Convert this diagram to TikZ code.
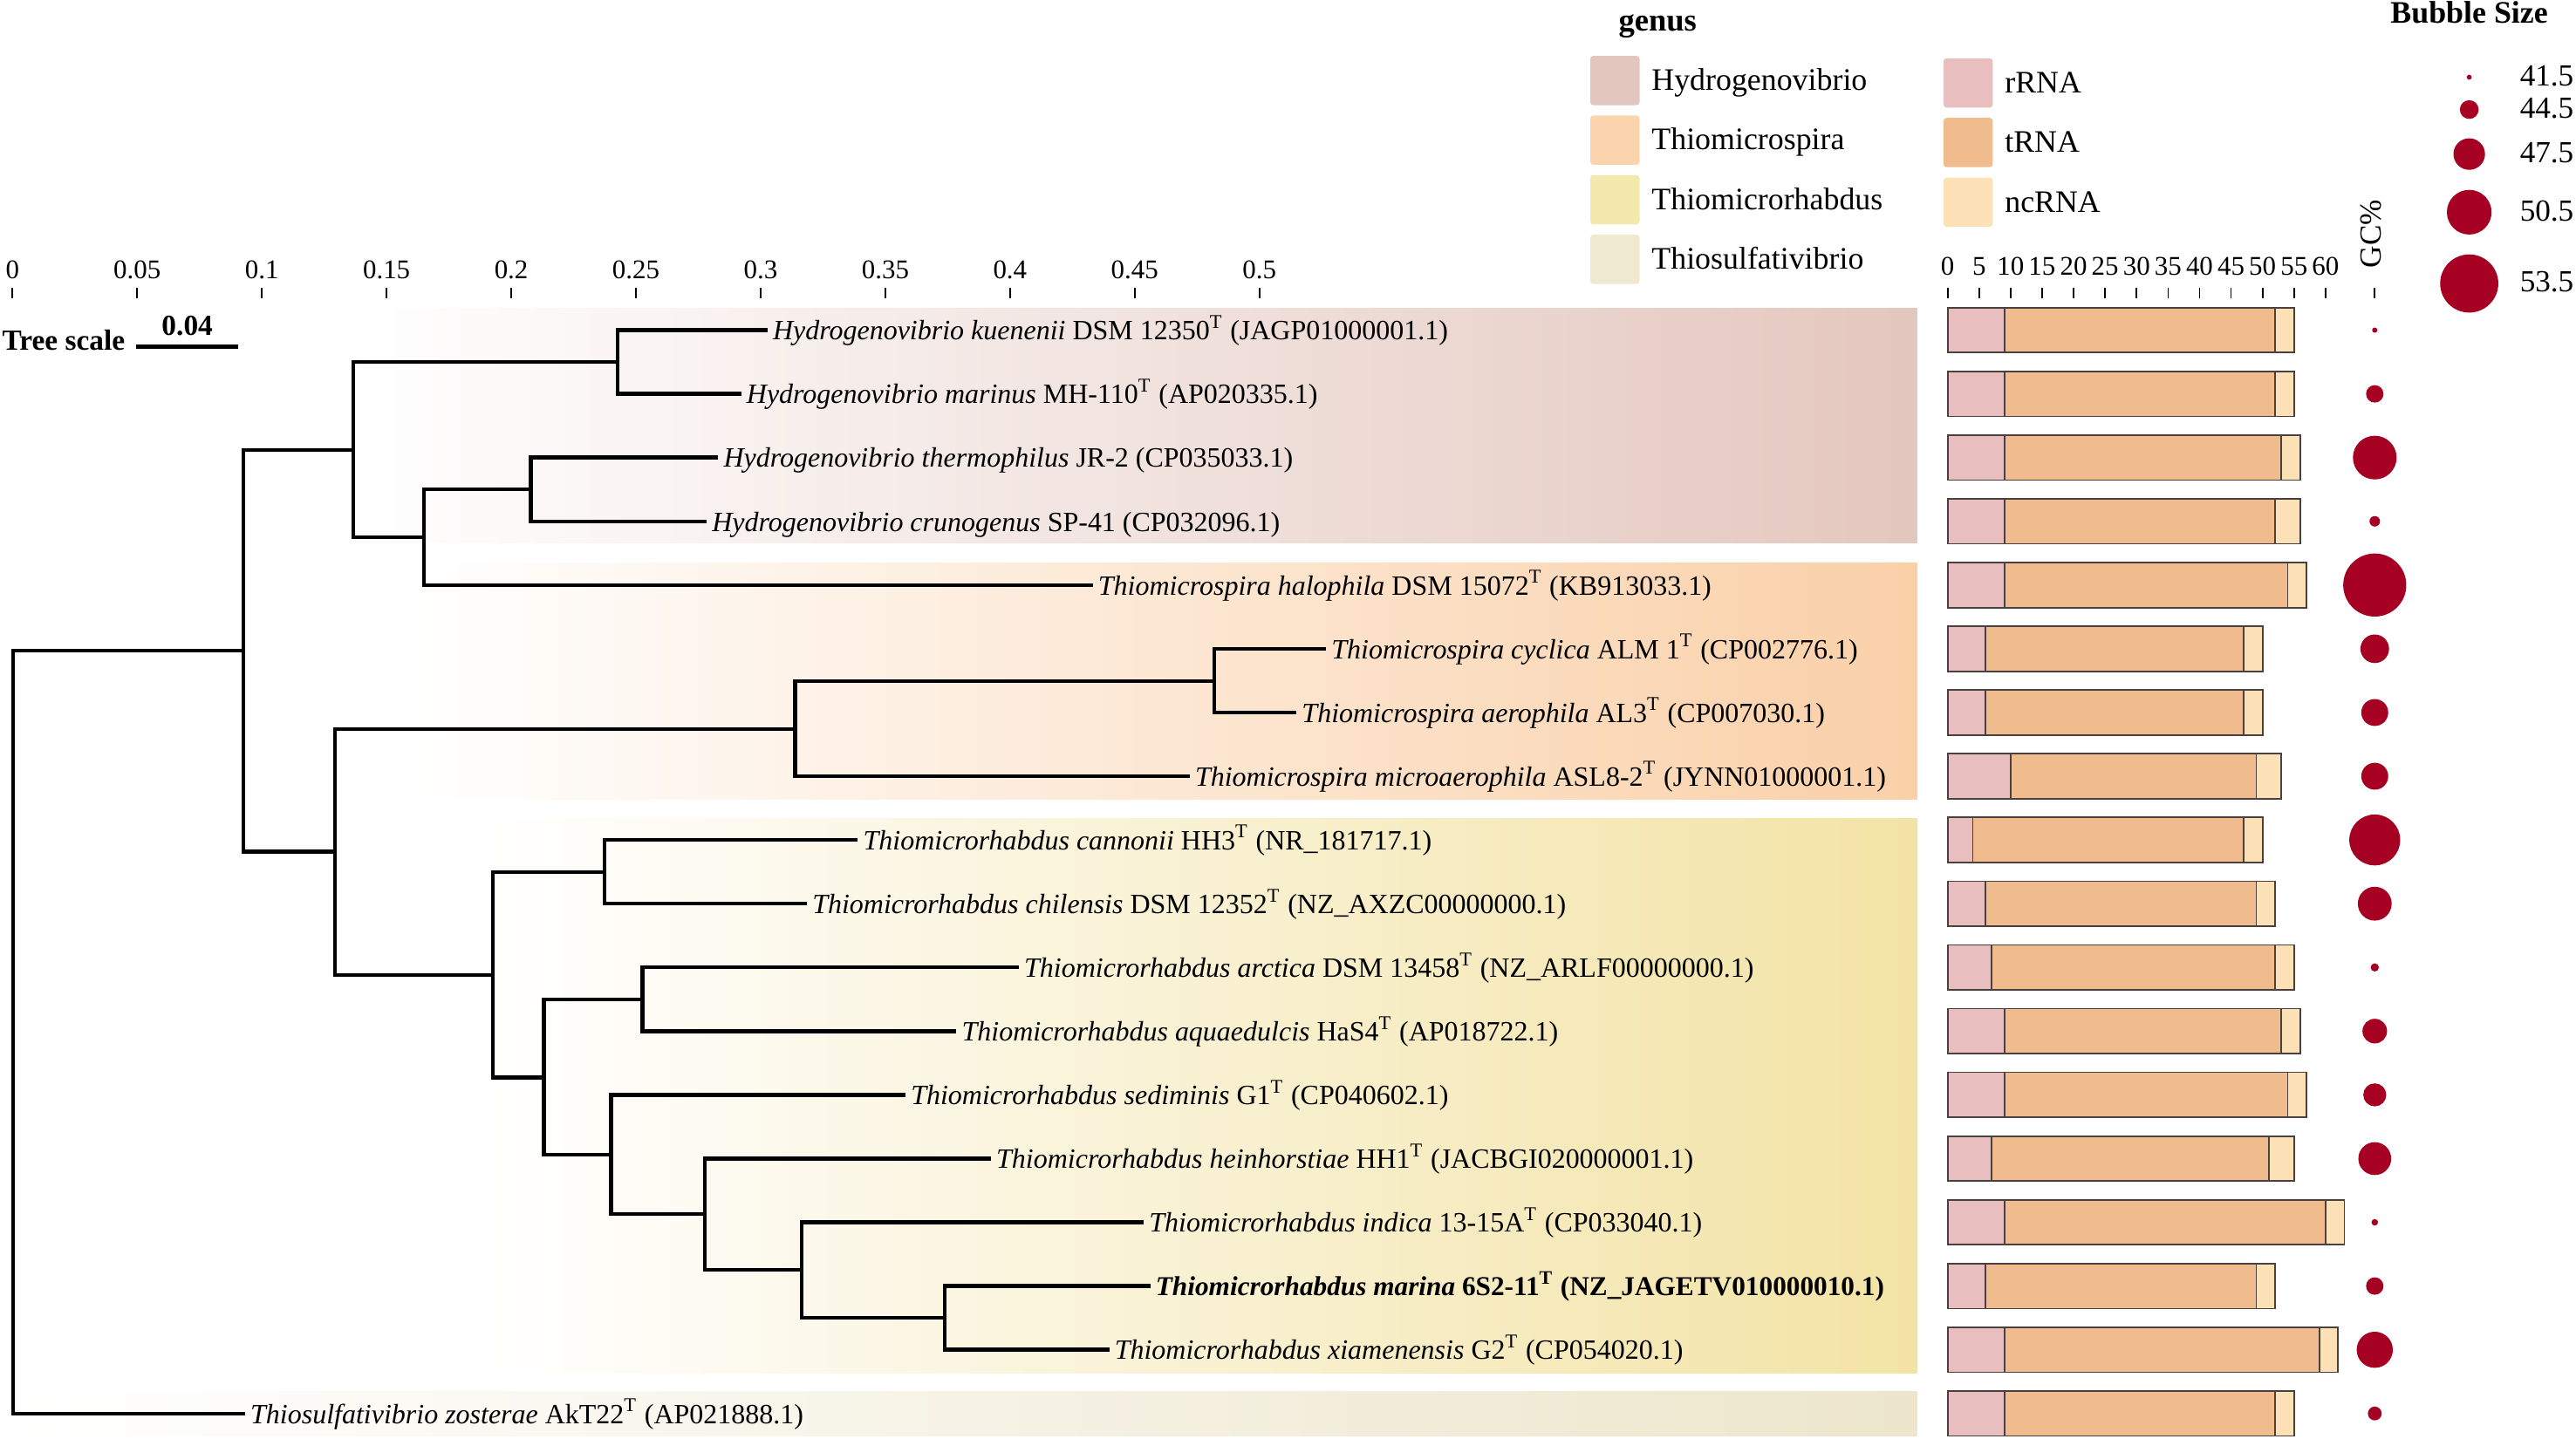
\documentclass[tikz,border=0pt]{standalone}
\usepackage{fontspec}
\setmainfont{Liberation Serif}
\definecolor{hydro}{HTML}{E4C7BE}
\definecolor{spira}{HTML}{FAD0A8}
\definecolor{rhab}{HTML}{F3E3A5}
\definecolor{sulfa}{HTML}{EDE6CC}
\definecolor{hydroL}{HTML}{E3C6BD}
\definecolor{spiraL}{HTML}{FBD4AE}
\definecolor{rhabL}{HTML}{F4E8AC}
\definecolor{sulfaL}{HTML}{EFE9D0}
\definecolor{rrna}{HTML}{E9BEBE}
\definecolor{trna}{HTML}{F0BC8E}
\definecolor{ncrna}{HTML}{FCE1B6}
\definecolor{bub}{HTML}{A60022}
\definecolor{barline}{HTML}{4A4040}
\tikzset{
 branch/.style={line width=1.25pt, line cap=rect, line join=miter},
 leaf/.style={anchor=base west, inner sep=0pt, yshift=-3.2pt, font=\fontsize{9.1}{11}\selectfont},
 tickmark/.style={line width=0.5pt},
 axlab/.style={font=\fontsize{8.8}{10}\selectfont, inner sep=0pt},
 legtxt/.style={anchor=base west, inner sep=0pt, font=\fontsize{10.2}{12}\selectfont},
 legbox/.style={rounded corners=1pt},
 seg/.style={draw=barline, line width=0.5pt},
 bubble/.style={fill=bub, draw=none},
 boldtxt/.style={inner sep=0pt, font=\fontsize{9.5}{11}\selectfont\bfseries},
}
\begin{document}
\begin{tikzpicture}[x=0.018833cm,y=-0.018833cm]
\path[use as bounding box] (0,0) rectangle (1568,876);
% ---------- genus bands
\shade[left color=white,right color=hydro] (215,187.6) rectangle (1167,330.8);
\shade[left color=white,right color=spira] (250,342.8) rectangle (1167,486.6);
\shade[left color=white,right color=rhab] (296,498.2) rectangle (1167,835.8);
\shade[left color=white,right color=sulfa] (8,847.4) rectangle (1167,874.4);
% ---------- tree axis
\foreach \k/\lab in {0/0,1/0.05,2/0.1,3/0.15,4/0.2,5/0.25,6/0.3,7/0.35,8/0.4,9/0.45,10/0.5}{
  \pgfmathsetmacro\xx{7.6+75.9*\k}
  \node[axlab,anchor=base] (ta\k) at (\xx,169.5) {\lab};
  \draw[tickmark] (\xx,175) -- (\xx,181.4);
}
% ---------- bar axis
\foreach \k in {0,...,12}{
  \pgfmathsetmacro\xx{1185.5+19.17*\k}
  \pgfmathtruncatemacro\lab{5*\k}
  \node[axlab,anchor=base] (ba\k) at (\xx,167.5) {\lab};
  \draw[tickmark] (\xx,175) -- (\xx,181.4);
}
\node[font=\fontsize{10}{12}\selectfont, rotate=90, anchor=base west, inner sep=0pt] (gc) at (1449.5,163.5) {GC\%};
\draw[tickmark] (1445.5,175) -- (1445.5,181.4);
% ---------- tree scale
\node[boldtxt, anchor=west] (tsl) at (1,207) {Tree scale};
\coordinate (tsa) at (83,211);
\coordinate (tsb) at (145,211);
\draw[line width=1.3pt] (tsa) -- (tsb);
\node[boldtxt, anchor=base] (tsv) at (114,204) {0.04};
% ---------- genus legend
\node[font=\fontsize{10.4}{12}\selectfont\bfseries, anchor=base, inner sep=0pt] (genus) at (1009,18.6) {genus};
\foreach \j/\c/\t in {0/hydroL/Hydrogenovibrio,1/spiraL/Thiomicrospira,2/rhabL/Thiomicrorhabdus,3/sulfaL/Thiosulfativibrio}{
  \pgfmathsetmacro\yy{49+36.3*\j}
  \fill[legbox,\c] (968,\yy-15) rectangle (998,\yy+15);
  \node[legtxt] (gl\j) at (1005,\yy+6) {\t};
}
% ---------- RNA legend
\foreach \j/\c/\t in {0/rrna/rRNA,1/trna/tRNA,2/ncrna/ncRNA}{
  \pgfmathsetmacro\yy{50.5+36.3*\j}
  \fill[legbox,\c] (1183,\yy-15) rectangle (1213,\yy+15);
  \node[legtxt] (rl\j) at (1220,\yy+6) {\t};
}
% ---------- bubble legend
\node[font=\fontsize{10.2}{12}\selectfont\bfseries, anchor=base, inner sep=0pt] (bsz) at (1503,14.2) {Bubble Size};
\foreach \j/\yy/\rr/\t in {0/47/1.5/41.5,1/66.7/5.7/44.5,2/93.8/9.6/47.5,3/129.2/13.6/50.5,4/172.6/17.7/53.5}{
  \fill[bubble] (1503,\yy) circle[radius=\rr];
  \node[legtxt,font=\fontsize{10}{12}\selectfont] (bl\j) at (1533.5,\yy+5.2) {\t};
}
% ---------- bars and bubbles
\foreach \i/\r/\t/\n/\g in {0/9/52/55/1.6,1/9/52/55/5.3,2/9/53/56/13.3,3/9/52/56/3.2,4/9/54/57/19.2,5/6/47/50/8.7,6/6/47/50/8.2,7/10/49/53/8.2,8/4/47/50/15.5,9/6/49/52/10.3,10/7/52/55/2.5,11/9/53/56/7.5,12/9/54/57/7.0,13/7/51/55/10,14/9/60/63/2,15/6/49/52/5.3,16/9/59/62/11,17/9/52/55/4.2}{
  \pgfmathsetmacro\yy{201+38.8*\i}
  \pgfmathsetmacro\xa{1185.5+3.834*\r}
  \pgfmathsetmacro\xb{1185.5+3.834*\t}
  \pgfmathsetmacro\xc{1185.5+3.834*\n}
  \fill[rrna] (1185.5,\yy-13.7) rectangle (\xa,\yy+13.7);
  \fill[trna] (\xa,\yy-13.7) rectangle (\xb,\yy+13.7);
  \fill[ncrna] (\xb,\yy-13.7) rectangle (\xc,\yy+13.7);
  \draw[seg] (1185.5,\yy-13.7) rectangle (\xc,\yy+13.7);
  \draw[seg] (\xa,\yy-13.7) -- (\xa,\yy+13.7);
  \draw[seg] (\xb,\yy-13.7) -- (\xb,\yy+13.7);
  \fill[bubble] (1445.5,\yy) circle[radius=\g];
}
% ---------- tree nodes
\coordinate (R) at (8,628.5);
\coordinate (A) at (148,396);
\coordinate (B) at (215,274);
\coordinate (B1) at (376,220.5);
\coordinate (B2) at (258,327);
\coordinate (B3) at (323,298);
\coordinate (C) at (204,518.5);
\coordinate (D) at (484,443.8);
\coordinate (D1) at (739,414.6);
\coordinate (E) at (300,593.5);
\coordinate (E1) at (368,531);
\coordinate (E2) at (331,656);
\coordinate (E21) at (391,608.6);
\coordinate (E3) at (372,703);
\coordinate (E4) at (429,739);
\coordinate (E5) at (488,773);
\coordinate (E6) at (575,802.4);
% leaves
\coordinate (L1) at (466,201);
\coordinate (L2) at (450,239.8);
\coordinate (L3) at (436,278.6);
\coordinate (L4) at (429,317.4);
\coordinate (L5) at (664,356.2);
\coordinate (L6) at (806,395);
\coordinate (L7) at (788,433.8);
\coordinate (L8) at (723,472.6);
\coordinate (L9) at (521,511.4);
\coordinate (L10) at (490,550.2);
\coordinate (L11) at (619,589);
\coordinate (L12) at (581,627.8);
\coordinate (L13) at (550,666.6);
\coordinate (L14) at (602,705.4);
\coordinate (L15) at (695,744.2);
\coordinate (L16) at (699,783);
\coordinate (L17) at (674,821.8);
\coordinate (L18) at (148,860.6);
% branches
\draw[branch] (R) |- (A);
\draw[branch] (R) |- (L18);
\draw[branch] (A) |- (B);
\draw[branch] (A) |- (C);
\draw[branch] (B) |- (B1);
\draw[branch] (B) |- (B2);
\draw[branch] (B1) |- (L1);
\draw[branch] (B1) |- (L2);
\draw[branch] (B2) |- (B3);
\draw[branch] (B2) |- (L5);
\draw[branch] (B3) |- (L3);
\draw[branch] (B3) |- (L4);
\draw[branch] (C) |- (D);
\draw[branch] (C) |- (E);
\draw[branch] (D) |- (D1);
\draw[branch] (D) |- (L8);
\draw[branch] (D1) |- (L6);
\draw[branch] (D1) |- (L7);
\draw[branch] (E) |- (E1);
\draw[branch] (E) |- (E2);
\draw[branch] (E1) |- (L9);
\draw[branch] (E1) |- (L10);
\draw[branch] (E2) |- (E21);
\draw[branch] (E2) |- (E3);
\draw[branch] (E21) |- (L11);
\draw[branch] (E21) |- (L12);
\draw[branch] (E3) |- (L13);
\draw[branch] (E3) |- (E4);
\draw[branch] (E4) |- (L14);
\draw[branch] (E4) |- (E5);
\draw[branch] (E5) |- (L15);
\draw[branch] (E5) |- (E6);
\draw[branch] (E6) |- (L16);
\draw[branch] (E6) |- (L17);
% labels
\node[leaf] (n1) at ([xshift=2.2pt]L1) {\textit{Hydrogenovibrio kuenenii} DSM 12350\textsuperscript{T} (JAGP01000001.1)};
\node[leaf] (n2) at ([xshift=2.2pt]L2) {\textit{Hydrogenovibrio marinus} MH-110\textsuperscript{T} (AP020335.1)};
\node[leaf] (n3) at ([xshift=2.2pt]L3) {\textit{Hydrogenovibrio thermophilus} JR-2 (CP035033.1)};
\node[leaf] (n4) at ([xshift=2.2pt]L4) {\textit{Hydrogenovibrio crunogenus} SP-41 (CP032096.1)};
\node[leaf] (n5) at ([xshift=2.2pt]L5) {\textit{Thiomicrospira halophila} DSM 15072\textsuperscript{T} (KB913033.1)};
\node[leaf] (n6) at ([xshift=2.2pt]L6) {\textit{Thiomicrospira cyclica} ALM 1\textsuperscript{T} (CP002776.1)};
\node[leaf] (n7) at ([xshift=2.2pt]L7) {\textit{Thiomicrospira aerophila} AL3\textsuperscript{T} (CP007030.1)};
\node[leaf] (n8) at ([xshift=2.2pt]L8) {\textit{Thiomicrospira microaerophila} ASL8-2\textsuperscript{T} (JYNN01000001.1)};
\node[leaf] (n9) at ([xshift=2.2pt]L9) {\textit{Thiomicrorhabdus cannonii} HH3\textsuperscript{T} (NR\_181717.1)};
\node[leaf] (n10) at ([xshift=2.2pt]L10) {\textit{Thiomicrorhabdus chilensis} DSM 12352\textsuperscript{T} (NZ\_AXZC00000000.1)};
\node[leaf] (n11) at ([xshift=2.2pt]L11) {\textit{Thiomicrorhabdus arctica} DSM 13458\textsuperscript{T} (NZ\_ARLF00000000.1)};
\node[leaf] (n12) at ([xshift=2.2pt]L12) {\textit{Thiomicrorhabdus aquaedulcis} HaS4\textsuperscript{T} (AP018722.1)};
\node[leaf] (n13) at ([xshift=2.2pt]L13) {\textit{Thiomicrorhabdus sediminis} G1\textsuperscript{T} (CP040602.1)};
\node[leaf] (n14) at ([xshift=2.2pt]L14) {\textit{Thiomicrorhabdus heinhorstiae} HH1\textsuperscript{T} (JACBGI020000001.1)};
\node[leaf] (n15) at ([xshift=2.2pt]L15) {\textit{Thiomicrorhabdus indica} 13-15A\textsuperscript{T} (CP033040.1)};
\node[leaf,font=\fontsize{8.9}{11}\selectfont\bfseries] (n16) at ([xshift=2.2pt]L16) {\textit{Thiomicrorhabdus marina} 6S2-11\textsuperscript{T} (NZ\_JAGETV010000010.1)};
\node[leaf] (n17) at ([xshift=2.2pt]L17) {\textit{Thiomicrorhabdus xiamenensis} G2\textsuperscript{T} (CP054020.1)};
\node[leaf] (n18) at ([xshift=2.2pt]L18) {\textit{Thiosulfativibrio zosterae} AkT22\textsuperscript{T} (AP021888.1)};
\end{tikzpicture}
\end{document}
